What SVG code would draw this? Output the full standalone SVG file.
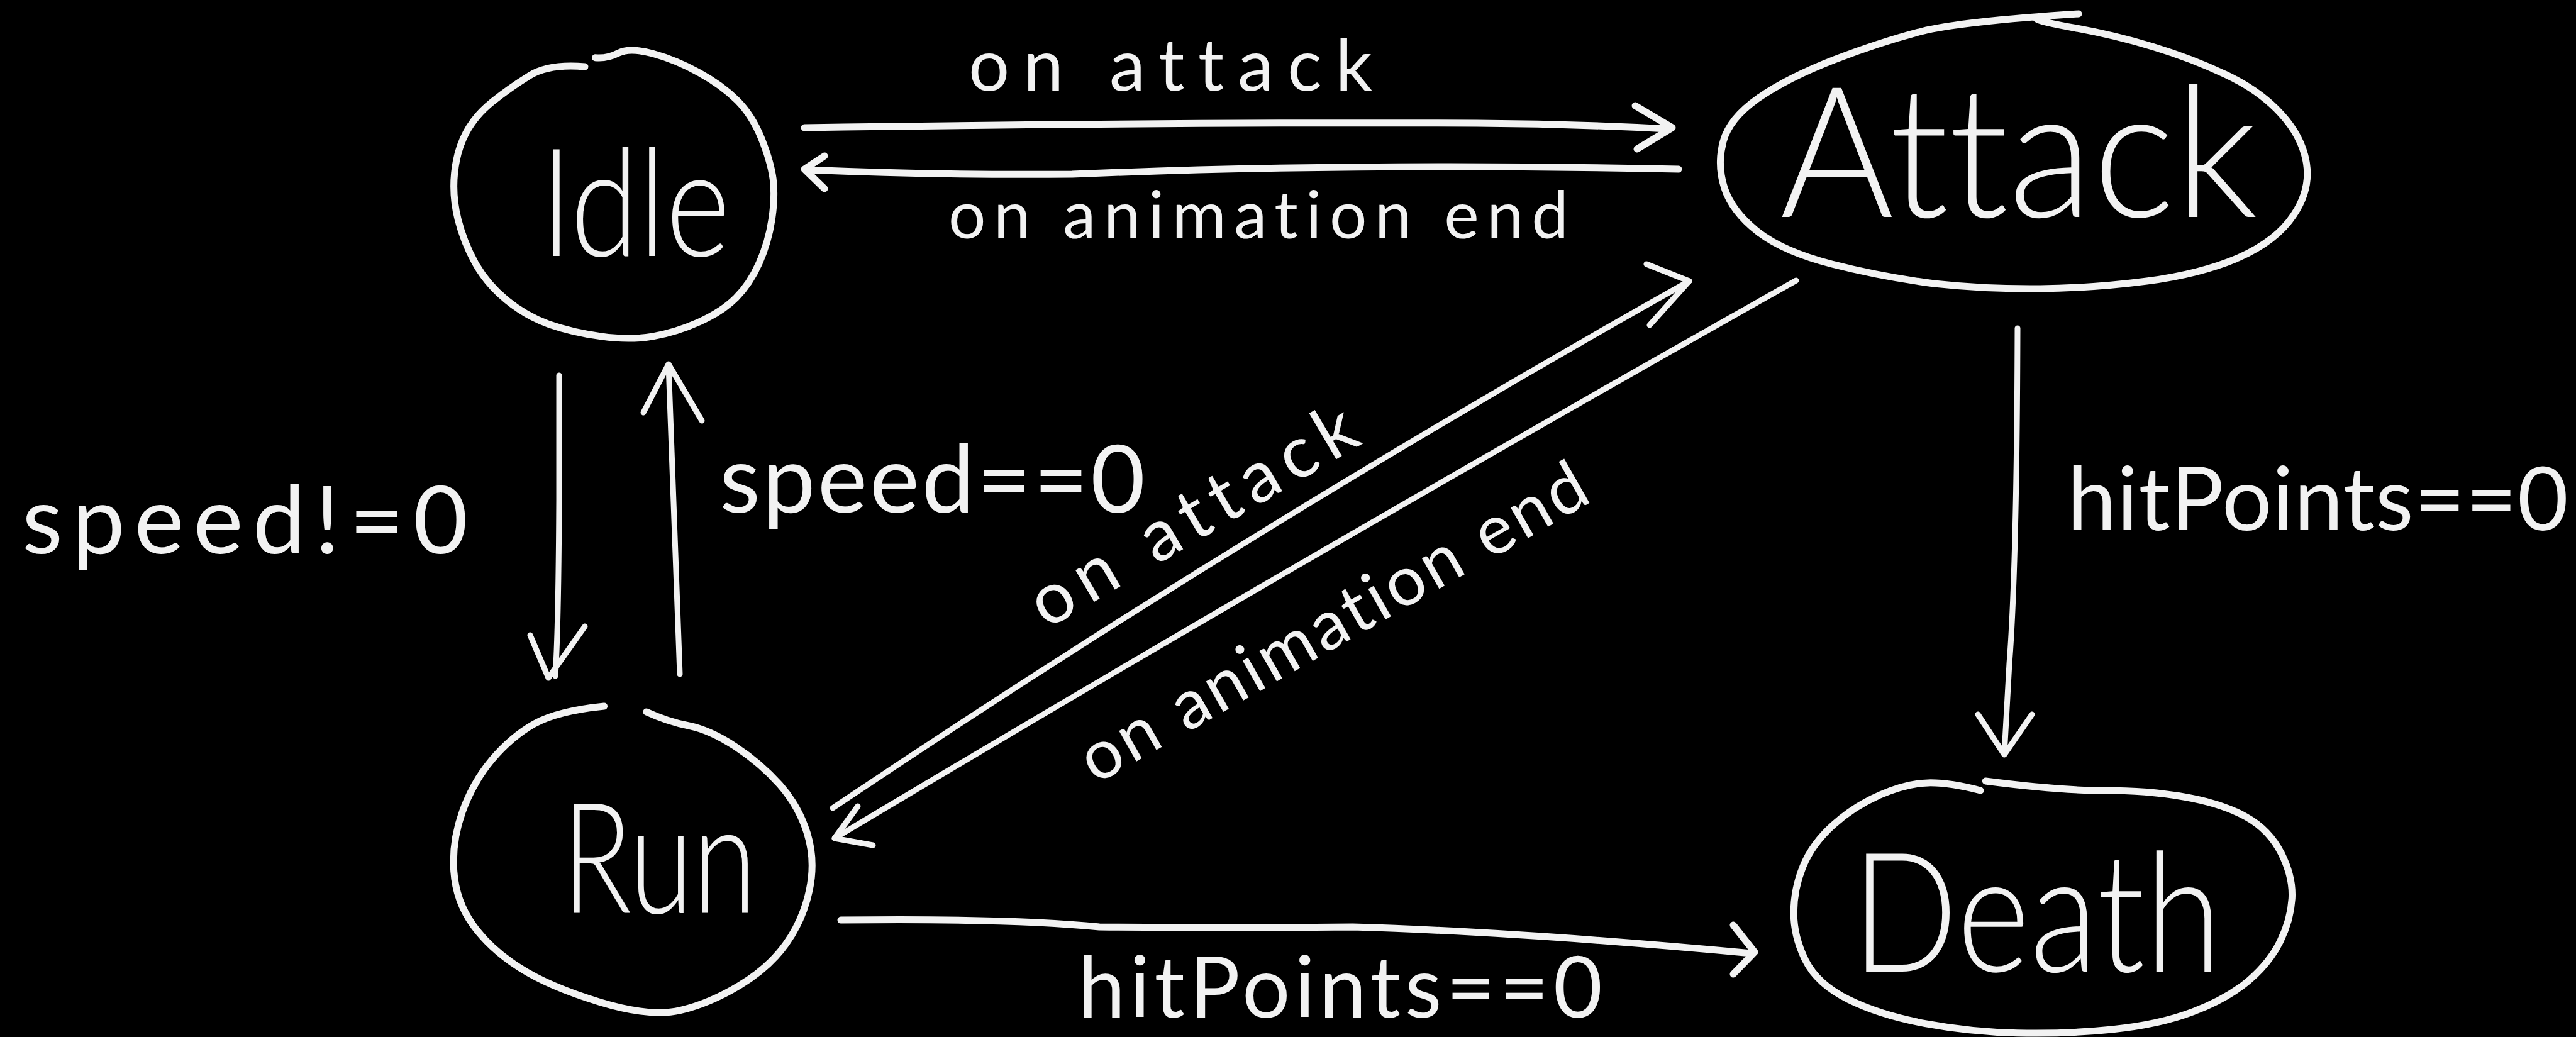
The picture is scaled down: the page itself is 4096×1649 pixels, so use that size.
<svg xmlns="http://www.w3.org/2000/svg" width="4096" height="1649" viewBox="0 0 4096 1649">
<style>
.node{fill:none;stroke:#f2f2f2;stroke-width:11;stroke-linecap:round;stroke-linejoin:round}
.edge{fill:none;stroke:#f2f2f2;stroke-width:9;stroke-linecap:round;stroke-linejoin:round}
.thick{stroke-width:11}
.ntext{fill:#f2f2f2;font-family:Lato,"Open Sans","Liberation Sans",sans-serif;font-weight:300;font-variant-ligatures:none;font-feature-settings:"liga" 0,"clig" 0}
.lbl{fill:#f2f2f2;font-family:Lato,"Open Sans","Liberation Sans",sans-serif;font-weight:400;font-variant-ligatures:none;font-feature-settings:"liga" 0,"clig" 0}
</style>
<rect width="4096" height="1649" fill="#000"/>
<g id="connectors">
  <g id="e-idle-attack">
    <path class="edge thick" d="M 1279 203 Q 1890 194 2348 196 Q 2500 197 2652 205"/>
    <path class="edge thick" d="M 2600 168 L 2659 203 L 2603 237"/>
    <text class="lbl" x="1540" y="144" font-size="115" textLength="642" lengthAdjust="spacing">on attack</text>
  </g>
  <g id="e-attack-idle">
    <path class="edge thick" d="M 2669 269 Q 2164 258 1705 277 Q 1500 279 1283 270"/>
    <path class="edge thick" d="M 1311 248 L 1279 269 L 1311 300"/>
    <text class="lbl" x="1508" y="379" font-size="105" textLength="986" lengthAdjust="spacing">on animation end</text>
  </g>
  <g id="e-idle-run">
    <path class="edge" d="M 889 597 L 889 796 Q 888 1000 883 1075"/>
    <path class="edge" d="M 843 1010 L 872 1078 L 930 996"/>
    <text class="lbl" x="35" y="880" font-size="150" textLength="709" lengthAdjust="spacing">speed!=0</text>
  </g>
  <g id="e-run-idle">
    <path class="edge" d="M 1081 1072 Q 1070 800 1063 580"/>
    <path class="edge" d="M 1023 656 L 1063 579 L 1116 669"/>
    <text class="lbl" x="1144" y="815" font-size="150" textLength="677" lengthAdjust="spacing">speed==0</text>
  </g>
  <g id="e-run-attack">
    <path class="edge" d="M 1324 1285 Q 1988 839 2686 447"/>
    <path class="edge" d="M 2618 420 L 2686 447 L 2623 517"/>
    <text class="lbl" x="1916" y="853" font-size="115" text-anchor="middle" textLength="585" lengthAdjust="spacing" transform="rotate(-30.5 1916 853)">on attack</text>
  </g>
  <g id="e-attack-run">
    <path class="edge" d="M 2856 446 Q 2085 880 1327 1333"/>
    <path class="edge" d="M 1364 1282 L 1327 1333 L 1388 1344"/>
    <text class="lbl" x="2138" y="1022" font-size="110" text-anchor="middle" textLength="912" lengthAdjust="spacing" transform="rotate(-29.7 2138 1022)">on animation end</text>
  </g>
  <g id="e-attack-death">
    <path class="edge" d="M 3208 522 Q 3207 900 3195 1055 L 3187 1198"/>
    <path class="edge" d="M 3145 1136 L 3187 1200 L 3231 1136"/>
    <text class="lbl" x="3287" y="843" font-size="140" textLength="797" lengthAdjust="spacing">hitPoints==0</text>
  </g>
  <g id="e-run-death">
    <path class="edge thick" d="M 1337 1463 Q 1613 1460 1748 1474 Q 1950 1476 2151 1474 Q 2420 1482 2785 1516"/>
    <path class="edge thick" d="M 2756 1471 L 2790 1514 L 2756 1549"/>
    <text class="lbl" x="1714" y="1618" font-size="135" textLength="834" lengthAdjust="spacing">hitPoints==0</text>
  </g>
</g>
<g id="node-idle">
  <path class="node" d="M 930 106 Q 873 101 841.9 120.3 Q 810.8 139.5 783.3 161.5 Q 755.7 183.5 741.1 211.1 Q 726.4 238.6 722.7 275.3 Q 719 312 728.2 348.7 Q 737.4 385.4 755.7 418.4 Q 774 451.4 805.3 477.1 Q 836.5 502.8 873.2 515.7 Q 909.9 528.5 955.8 534.9 Q 1001.6 541.3 1038.3 534.9 Q 1075 528.5 1111.7 512 Q 1148.4 495.5 1170.4 473.5 Q 1192.4 451.4 1207.1 418.4 Q 1221.8 385.4 1227.3 348.7 Q 1232.8 312 1229.2 284.5 Q 1225.5 257 1210.8 220.3 Q 1196 183.5 1172.2 159.7 Q 1148.4 135.8 1111.7 115.6 Q 1075 95.4 1038.3 85.3 Q 1001.6 75.2 983.3 84.4 Q 965 93.6 946.5 91.8"/>
  <text class="ntext" x="859" y="407" font-size="240" textLength="302" lengthAdjust="spacingAndGlyphs">Idle</text>
</g>
<g id="node-attack">
  <path class="node" d="M 3305 22 Q 3119 34 3055 50 Q 2991 66.5 2916.5 95 Q 2842 124 2796 156 Q 2750 188 2740 225 Q 2730 262 2742 299 Q 2754 336 2794.5 368 Q 2835 400 2913 420 Q 2991 440 3075.5 451 Q 3160 460 3244.5 459 Q 3329 458 3413.5 447 Q 3498 436 3559 410 Q 3620 383 3647 342 Q 3674 302 3667.5 260 Q 3661 218 3627 181 Q 3593 144 3539 118.5 Q 3485 93 3424 74.5 Q 3363 56 3302 45 Q 3241 34 3238 30"/>
  <text class="ntext" x="2830" y="345" font-size="290" textLength="760" lengthAdjust="spacingAndGlyphs">Attack</text>
</g>
<g id="node-run">
  <path class="node" d="M 960.6 1123 Q 886.6 1130.5 849.6 1151 Q 812.6 1172 782.3 1208 Q 752 1244 735.2 1291 Q 718.4 1338 721.7 1385.5 Q 725 1433 752 1470.7 Q 779 1508.5 826 1538.7 Q 873 1569 953.8 1593.5 Q 1034.6 1618 1081.7 1606.7 Q 1128.8 1595.5 1175.9 1567 Q 1223 1538.7 1249.9 1500.8 Q 1276.8 1463 1286.9 1415.8 Q 1297 1368.6 1283.5 1325 Q 1270 1281.7 1239.8 1247.7 Q 1209.5 1213.7 1169 1187 Q 1128.8 1160.7 1095 1154 Q 1061.5 1147.5 1027.9 1132"/>
  <text class="ntext" x="893" y="1452" font-size="245" textLength="310" lengthAdjust="spacingAndGlyphs">Run</text>
</g>
<g id="node-death">
  <path class="node" d="M 3149 1257 Q 3098.8 1244 3065.4 1244.9 Q 3031.9 1245.8 2990.1 1263.8 Q 2948.3 1281.7 2914.9 1311.9 Q 2881.4 1342 2866.8 1378 Q 2852.2 1414 2852.2 1451.8 Q 2852.2 1489.6 2871 1527.4 Q 2889.8 1565.2 2940 1589.8 Q 2990.1 1614.3 3061.2 1627.6 Q 3132.2 1640.8 3207.5 1642.7 Q 3282.7 1644.6 3358 1637 Q 3433.2 1629.5 3487.6 1608.7 Q 3541.9 1587.9 3575.3 1559.6 Q 3608.7 1531.2 3625.5 1497.2 Q 3642.2 1463.1 3644.3 1429.1 Q 3646.4 1395.1 3627.6 1357.3 Q 3608.7 1319.5 3571.1 1298.7 Q 3533.5 1277.9 3475 1267.5 Q 3416.5 1257.1 3345.4 1257.1 Q 3274.3 1257.1 3157.3 1242"/>
  <text class="ntext" x="2944" y="1545" font-size="265" textLength="589" lengthAdjust="spacingAndGlyphs">Death</text>
</g>
</svg>
